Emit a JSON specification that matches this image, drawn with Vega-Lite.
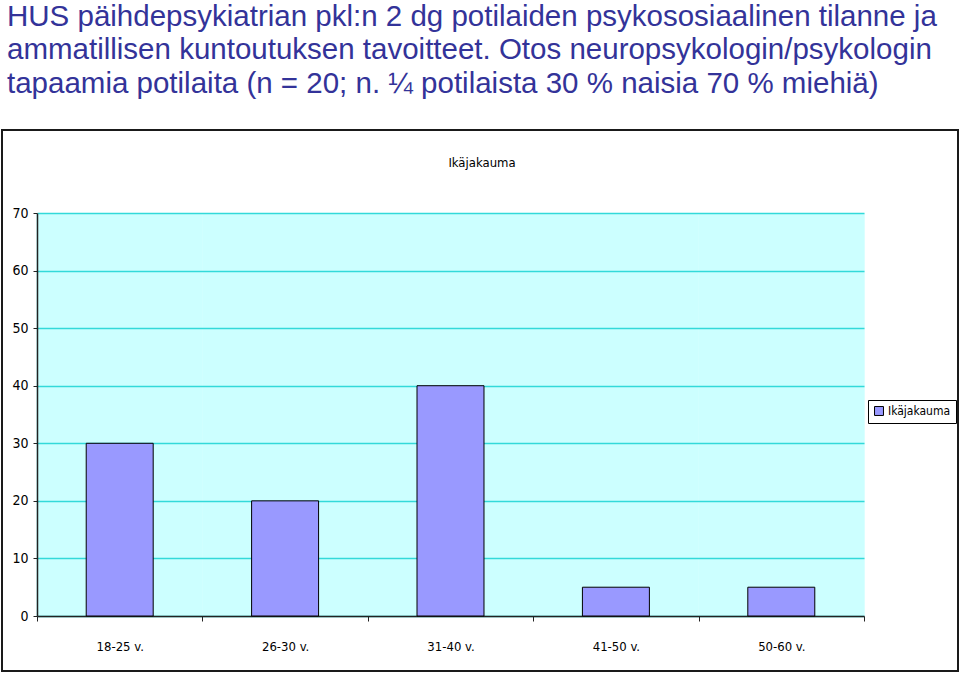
{
  "$schema": "https://vega.github.io/schema/vega-lite/v6.json",
  "width": 956,
  "height": 541,
  "autosize": {"type": "none"},
  "padding": {"left": 2, "top": 130, "right": 2, "bottom": 3},
  "background": "white",
  "config": {
    "view": {"stroke": "#1a1a1a", "strokeWidth": 2, "fill": "white"},
    "font": "DejaVu Sans Condensed, Liberation Sans Narrow, Liberation Sans, sans-serif"
  },
  "title": {
    "text": [
      "HUS päihdepsykiatrian pkl:n 2 dg potilaiden psykososiaalinen tilanne ja",
      "ammatillisen kuntoutuksen tavoitteet. Otos neuropsykologin/psykologin",
      "tapaamia potilaita (n = 20; n. ¼ potilaista 30 % naisia 70 % miehiä)"
    ],
    "anchor": "start",
    "frame": "group",
    "font": "Liberation Sans, Arial, sans-serif",
    "fontSize": 29.5,
    "fontWeight": "normal",
    "lineHeight": 33.5,
    "color": "#333399",
    "dx": 5,
    "offset": 31
  },
  "data": {
    "values": [
      {"Ikä": "18-25 v.", "Osuus": 30, "Sarja": "Ikäjakauma"},
      {"Ikä": "26-30 v.", "Osuus": 20, "Sarja": "Ikäjakauma"},
      {"Ikä": "31-40 v.", "Osuus": 40, "Sarja": "Ikäjakauma"},
      {"Ikä": "41-50 v.", "Osuus": 5, "Sarja": "Ikäjakauma"},
      {"Ikä": "50-60 v.", "Osuus": 5, "Sarja": "Ikäjakauma"}
    ]
  },
  "encoding": {
    "y": {
      "field": "Osuus",
      "type": "quantitative",
      "scale": {"domain": [0, 70], "nice": false, "zero": true, "rangeMin": 486, "rangeMax": 83},
      "axis": {
        "values": [0, 10, 20, 30, 40, 50, 60, 70],
        "grid": true,
        "gridColor": "#33D9D9",
        "gridWidth": 1.5,
        "domainColor": "#222222",
        "domainWidth": 1.5,
        "tickColor": "#222222",
        "tickSize": 4,
        "labelFontSize": 14,
        "labelColor": "#000000",
        "labelPadding": 5,
        "title": null,
        "offset": -35
      }
    }
  },
  "layer": [
    {
      "mark": {"type": "bar", "opacity": 0, "width": {"band": 0.405}},
      "encoding": {
        "x": {
          "field": "Ikä",
          "type": "nominal",
          "sort": null,
          "scale": {"paddingInner": 0, "paddingOuter": 0, "rangeMin": 35, "rangeMax": 862},
          "axis": {
            "orient": "top",
            "offset": -83,
            "grid": true,
            "gridColor": "#CCFFFF",
            "gridWidth": 166.4,
            "gridOpacity": 1,
            "tickBand": "center",
            "domain": false,
            "ticks": false,
            "labels": false,
            "title": "Ikäjakauma",
            "titleFontSize": 13,
            "titleFontWeight": "normal",
            "titleColor": "#000000",
            "titleX": 479.5,
            "titleY": -46.5,
            "titleBaseline": "alphabetic",
            "titleAlign": "center"
          }
        }
      }
    },
    {
      "mark": {"type": "bar", "width": {"band": 0.405}, "stroke": "#000000", "strokeWidth": 1},
      "encoding": {
        "x": {
          "field": "Ikä",
          "type": "nominal",
          "sort": null,
          "scale": {"paddingInner": 0, "paddingOuter": 0, "rangeMin": 35, "rangeMax": 862},
          "axis": {
            "orient": "bottom",
            "offset": -55,
            "grid": false,
            "tickBand": "extent",
            "tickSize": 5,
            "tickColor": "#222222",
            "domainColor": "#222222",
            "domainWidth": 1.5,
            "labelAngle": 0,
            "labelFontSize": 13,
            "labelColor": "#000000",
            "labelBaseline": "alphabetic",
            "labelPadding": 29,
            "title": null
          }
        },
        "color": {
          "field": "Sarja",
          "type": "nominal",
          "scale": {"range": ["#9999FF"]},
          "legend": {
            "orient": "none",
            "legendX": 866,
            "legendY": 270,
            "title": null,
            "symbolType": "square",
            "symbolSize": 80,
            "symbolStrokeColor": "#000000",
            "symbolStrokeWidth": 1,
            "labelFontSize": 12,
            "labelColor": "#000000",
            "labelOffset": 3,
            "strokeColor": "#000000",
            "padding": 5
          }
        }
      }
    }
  ],
  "resolve": {"axis": {"x": "independent"}}
}
